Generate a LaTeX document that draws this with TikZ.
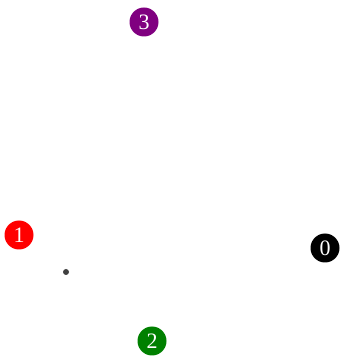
\documentclass[tikz,border=0pt]{standalone}
\usepackage{fontspec}
\setmainfont{Liberation Serif}
\definecolor{nodepurple}{RGB}{128,0,128}
\definecolor{nodegreen}{RGB}{0,128,0}
\begin{document}
\begin{tikzpicture}[
x=1pt, y=1pt,
vertex/.style={
circle,
inner sep=0pt,
minimum size=29pt,
text=white,
font=\fontsize{22}{22}\selectfont
}
]
\useasboundingbox (0,0) rectangle (341,356);
\node[vertex, fill=black] (v0) at (325,108) {0};
\node[vertex, fill=red] (v1) at (19,121) {1};
\node[vertex, fill=nodegreen] (v2) at (152,15) {2};
\node[vertex, fill=nodepurple] (v3) at (144,334) {3};
\node[circle, fill=black!75, inner sep=0pt, minimum size=6pt] (centre) at (66,84) {};

\end{tikzpicture}
\end{document}
